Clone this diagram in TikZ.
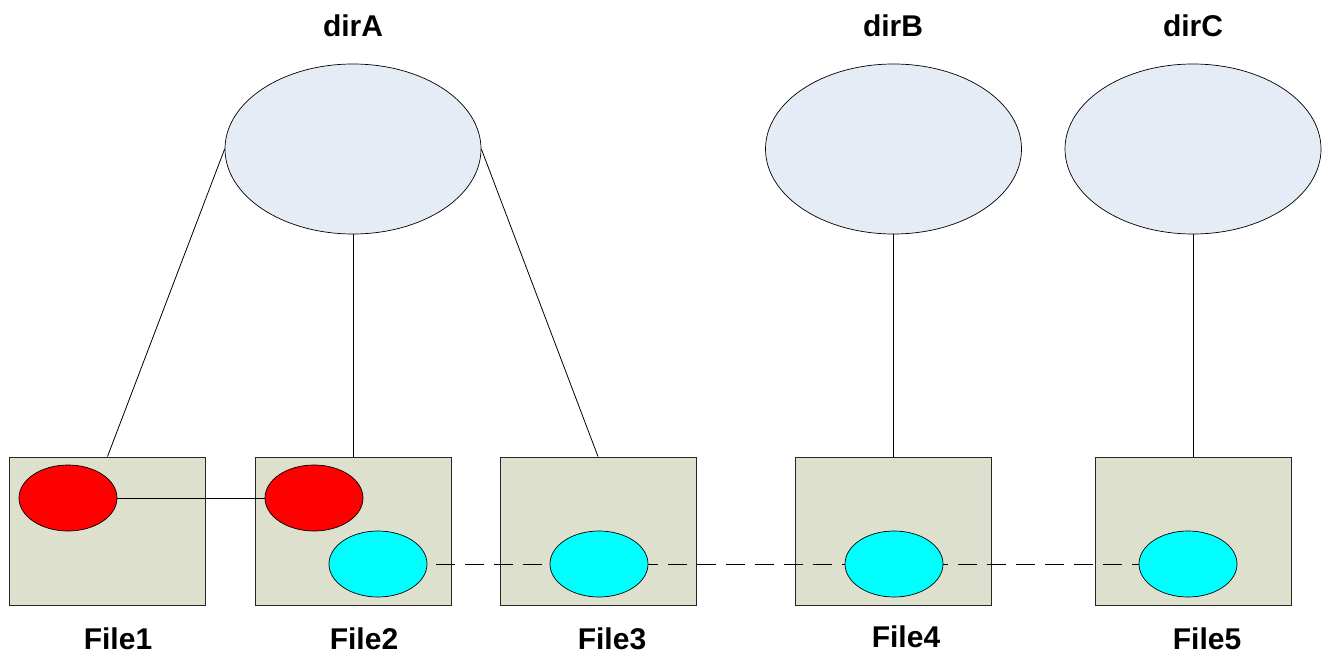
\documentclass[tikz,border=0pt]{standalone}
\usepackage{fontspec}
\setmainfont{Liberation Sans}
\usetikzlibrary{shapes.geometric}
\definecolor{boxfill}{RGB}{221,224,204}
\definecolor{dirfill}{RGB}{230,236,246}
\definecolor{redfill}{RGB}{255,0,0}
\definecolor{cyanfill}{RGB}{0,255,255}
\tikzset{
  filebox/.style={draw=black!85, line width=0.9pt, fill=boxfill, minimum width=196pt, minimum height=148pt, inner sep=0pt},
  dirnode/.style={ellipse, draw=black, line width=0.7pt, fill=dirfill, minimum width=256pt, minimum height=170pt, inner sep=0pt},
  redov/.style={ellipse, draw=black, line width=0.7pt, fill=redfill, minimum width=98pt, minimum height=66pt, inner sep=0pt},
  cyanov/.style={ellipse, draw=black, line width=0.7pt, fill=cyanfill, minimum width=98pt, minimum height=66pt, inner sep=0pt},
  lbl/.style={font=\bfseries\fontsize{30}{34}\selectfont, inner sep=0pt},
  link/.style={draw=black, line width=0.8pt},
  dlink/.style={draw=black, line width=0.8pt, dash pattern=on 19pt off 10pt}
}
\begin{document}
\begin{tikzpicture}[x=1pt,y=-1pt]
\useasboundingbox[fill=white] (0,0) rectangle (1330,658);
% boxes
\node[filebox] (f1) at (107.5,531) {};
\node[filebox] (f2) at (353,531) {};
\node[filebox] (f3) at (598,531) {};
\node[filebox] (f4) at (893.5,531) {};
\node[filebox] (f5) at (1193,531) {};
% directories
\node[dirnode] (dA) at (353,149) {};
\node[dirnode] (dB) at (893.5,149) {};
\node[dirnode] (dC) at (1193,149) {};
% dir links
\draw[link] (dA.west) -- (f1.north);
\draw[link] (dA.south) -- (f2.north);
\draw[link] (dA.east) -- (f3.north);
\draw[link] (dB.south) -- (f4.north);
\draw[link] (dC.south) -- (f5.north);
% dashed links (behind ovals)
\coordinate (c2) at (378,564);
\coordinate (c3) at (599,564);
\coordinate (c4) at (894,564);
\coordinate (c5) at (1188,564);
\draw[dlink] (c2) -- (c3) -- (c4) -- (c5);
% ovals
\node[redov] (r1) at (68,498) {};
\node[redov] (r2) at (314,498) {};
\node[cyanov] (b2) at (c2) {};
\node[cyanov] (b3) at (c3) {};
\node[cyanov] (b4) at (c4) {};
\node[cyanov] (b5) at (c5) {};
\draw[link] (r1.east) -- (r2.west);
% labels
\node[lbl] (lA) at (353,26) {dirA};
\node[lbl] (lB) at (893,26) {dirB};
\node[lbl] (lC) at (1193,26) {dirC};
\node[lbl] (l1) at (118,639) {File1};
\node[lbl] (l2) at (364,639) {File2};
\node[lbl] (l3) at (612,639) {File3};
\node[lbl] (l4) at (906,637) {File4};
\node[lbl] (l5) at (1207,639) {File5};
\end{tikzpicture}
\end{document}
